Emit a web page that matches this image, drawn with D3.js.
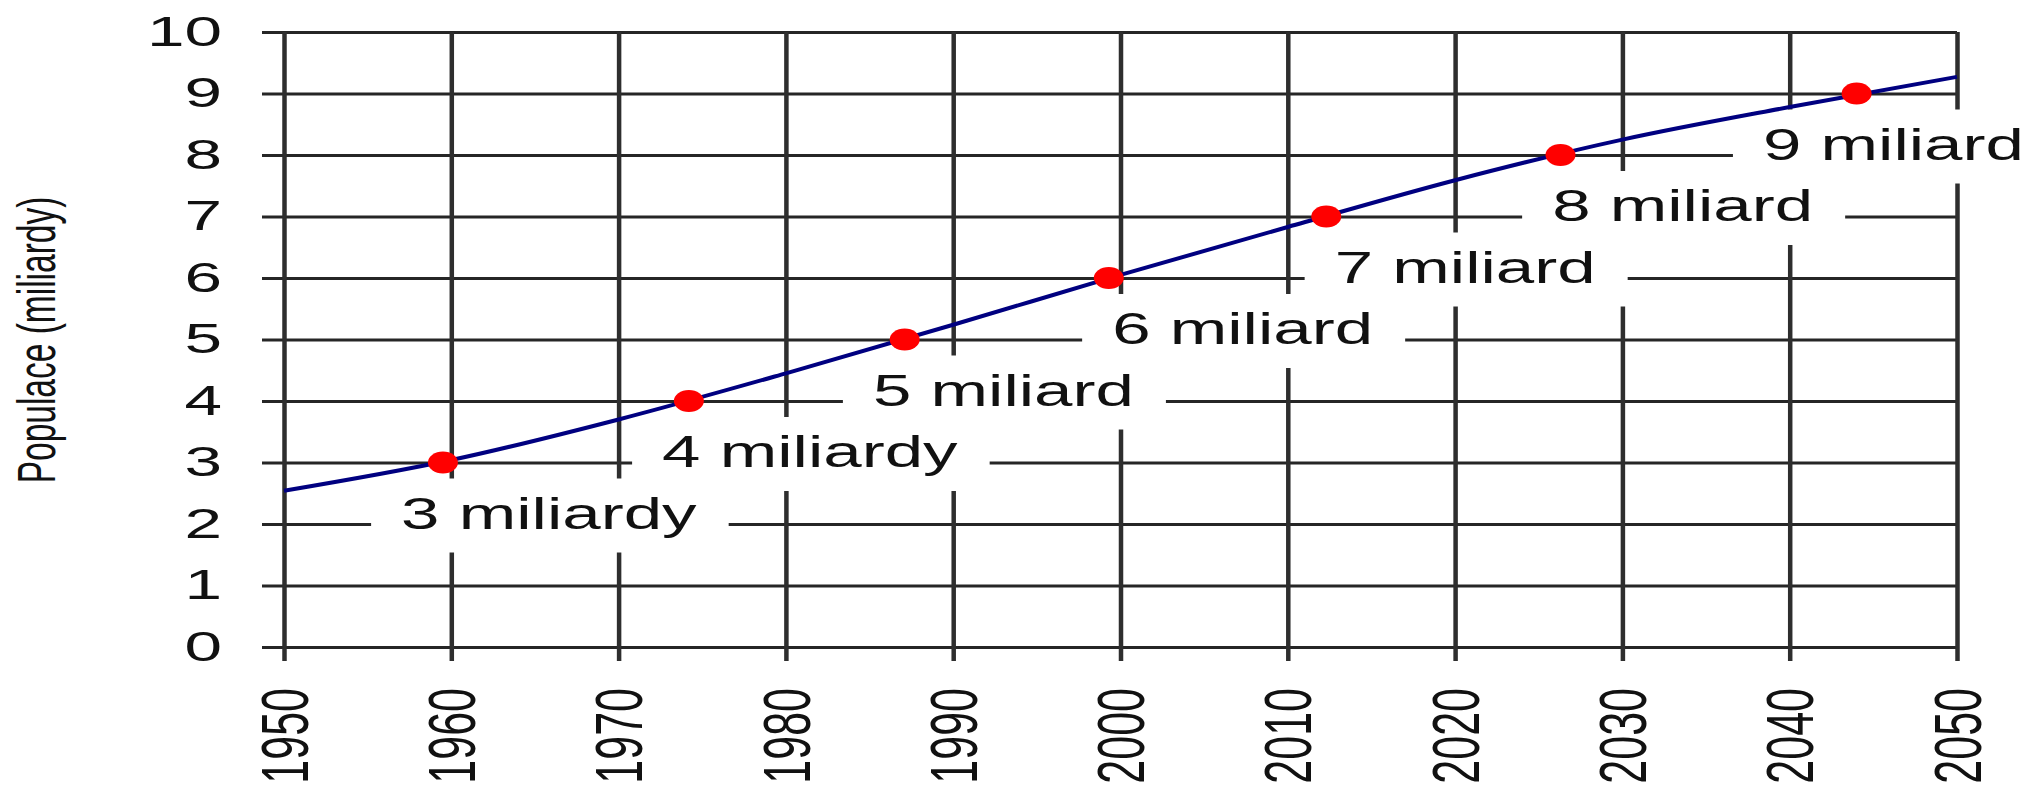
<!DOCTYPE html>
<html>
<head>
<meta charset="utf-8">
<script src="https://cdn.jsdelivr.net/npm/d3@7"></script>
<style>
    body { margin: 0; background: #fff; }
    text { font-family: "Liberation Sans", Arial, sans-serif; fill: #111; }
</style>
</head>
<body>
<div id="container"></div>
<script>
// Population curve (billions)
const years = [1950, 1960, 1970, 1980, 1990, 2000, 2010, 2020, 2030, 2040, 2050];
const population = [2.54, 3.04, 3.70, 4.45, 5.24, 6.05, 6.83, 7.59, 8.25, 8.78, 9.27];

// Milestones (red dots) and their labels
const milestoneYears = [1959.5, 1974.2, 1987.1, 1999.3, 2012.3, 2026.3, 2044.0];
const milestoneValues = [3, 4, 5, 6, 7, 8, 9];
const milestoneLabels = ['3 miliardy', '4 miliardy', '5 miliard', '6 miliard', '7 miliard', '8 miliard', '9 miliard'];
// year where each label text starts
const labelYears = [1957.0, 1972.6, 1985.2, 1999.5, 2012.8, 2025.8, 2038.4];

// Tick labels
const xTicks = [1950, 1960, 1970, 1980, 1990, 2000, 2010, 2020, 2030, 2040, 2050];
const yTicks = [0, 1, 2, 3, 4, 5, 6, 7, 8, 9, 10];

const width = 2025;
const height = 785;
const padding = { top: 32, right: 68, bottom: 138, left: 284 };
// the source picture is stretched sideways, so is the text
const stretch = 1.57;

const svg = d3.select('#container').append('svg')
    .attr('width', width)
    .attr('height', height);

const xScale = d3.scaleLinear()
    .domain([1950, 2050])
    .range([padding.left, width - padding.right]);

const yScale = d3.scaleLinear()
    .domain([0, 10])
    .range([height - padding.bottom, padding.top]);

// Horizontal grid (sticks out left of the axis)
const hGrid = svg.append('g')
    .attr('transform', 'translate(' + (padding.left - 22) + ',0)')
    .call(d3.axisRight(yScale).tickValues(yTicks).tickFormat('')
        .tickSize(xScale(2050) - padding.left + 22));
hGrid.select('.domain').remove();
hGrid.selectAll('line').attr('stroke', '#262626').attr('stroke-width', 3.2);

// Vertical grid (sticks out below zero)
const vGrid = svg.append('g')
    .attr('transform', 'translate(0,' + (yScale(0) + 14) + ')')
    .call(d3.axisBottom(xScale).tickValues(xTicks).tickFormat('')
        .tickSize(-(yScale(0) + 14 - yScale(10))));
vGrid.select('.domain').remove();
vGrid.selectAll('line').attr('stroke', '#2e2e2e').attr('stroke-width', 4.5);

// Y tick labels
svg.append('g').selectAll('text')
    .data(yTicks)
    .enter()
    .append('text')
    .attr('transform', d => 'translate(222,' + yScale(d) + ') scale(' + stretch + ',1)')
    .attr('dy', '0.32em')
    .attr('text-anchor', 'end')
    .style('font-size', '43px')
    .text(d => d);

// X tick labels, rotated
svg.append('g').selectAll('text')
    .data(xTicks)
    .enter()
    .append('text')
    .attr('transform', d => 'translate(' + xScale(d) + ',' + (yScale(0) + 41) + ') scale(' + stretch + ',1) rotate(-90)')
    .attr('dy', '0.35em')
    .attr('text-anchor', 'end')
    .style('font-size', '43px')
    .text(d => d);

// Y axis title
svg.append('text')
    .attr('transform', 'translate(55,340) scale(1.6,1) rotate(-90)')
    .attr('text-anchor', 'middle')
    .style('font-size', '33.5px')
    .text('Populace (miliardy)');

// Milestone labels on white boxes
const labels = svg.append('g').selectAll('g')
    .data(milestoneLabels)
    .enter()
    .append('g')
    .attr('transform', (d, i) => 'translate(' + xScale(labelYears[i]) + ',' + (yScale(milestoneValues[i]) + 66) + ')');

labels.append('rect')
    .attr('fill', '#fff');

labels.append('text')
    .attr('transform', 'scale(' + stretch + ',1)')
    .style('font-size', '44px')
    .text(d => d);

labels.each(function () {
    const g = d3.select(this);
    const len = g.select('text').node().getComputedTextLength() * stretch;
    g.select('rect')
        .attr('x', -30)
        .attr('y', -50)
        .attr('width', len + 62)
        .attr('height', 74);
});

// Population line
const line = d3.line()
    .x((d, i) => xScale(years[i]))
    .y(d => yScale(d))
    .curve(d3.curveMonotoneX);

svg.append('path')
    .datum(population)
    .attr('d', line)
    .attr('fill', 'none')
    .attr('stroke', '#000080')
    .attr('stroke-width', 4);

// Red milestone dots
svg.append('g').selectAll('ellipse')
    .data(milestoneValues)
    .enter()
    .append('ellipse')
    .attr('cx', (d, i) => xScale(milestoneYears[i]))
    .attr('cy', d => yScale(d))
    .attr('rx', 15)
    .attr('ry', 11)
    .attr('fill', '#ff0000');
</script>
</body>
</html>
